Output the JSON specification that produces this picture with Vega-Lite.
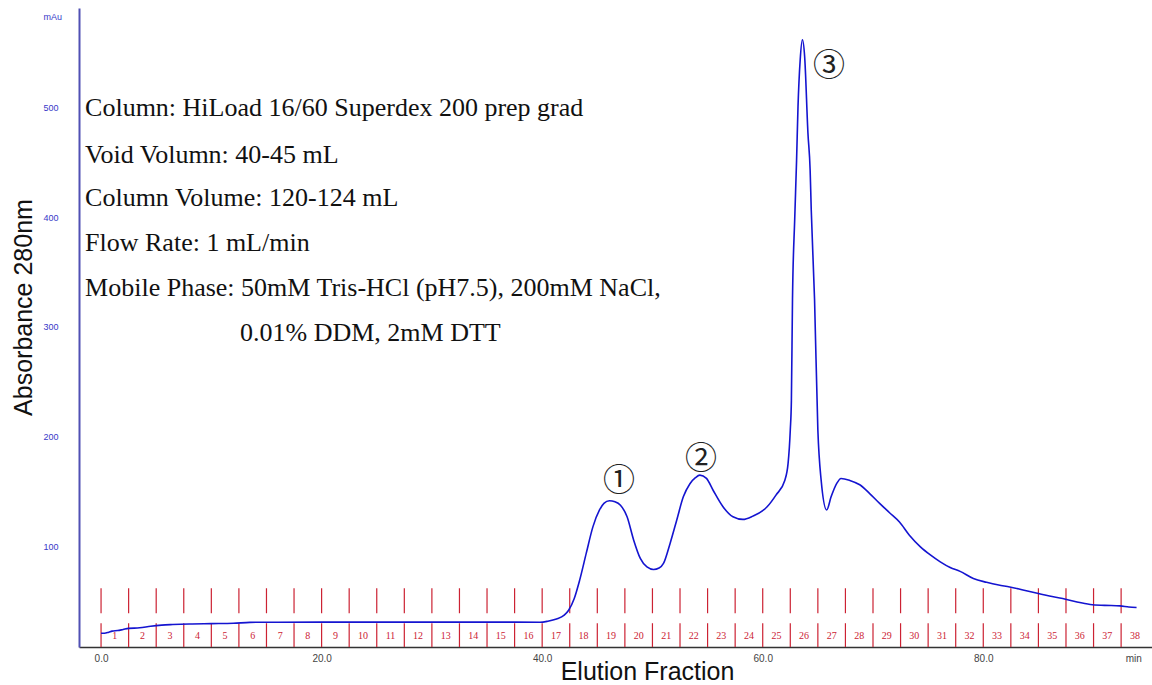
{
  "$schema": "https://vega.github.io/schema/vega-lite/v6.json",
  "width": 1073,
  "height": 639,
  "autosize": {"type": "none"},
  "padding": {"left": 79, "top": 8, "right": 0, "bottom": 38},
  "background": "white",
  "config": {
    "view": {"stroke": null},
    "axis": {"grid": false, "ticks": false, "tickSize": 0, "labelFlush": false, "labelOverlap": false,
      "titleFont": "Liberation Sans", "titleFontSize": 25, "titleFontWeight": "normal", "titleColor": "#111111"},
    "axisX": {"domainColor": "#333333", "domainWidth": 1.5, "labelFont": "Liberation Sans", "labelFontSize": 10, "labelColor": "#444444", "labelPadding": 6},
    "axisY": {"domainColor": "#5050b4", "domainWidth": 2, "labelFont": "Liberation Sans", "labelFontSize": 9, "labelColor": "#3838c8", "labelAlign": "left", "labelBaseline": "middle", "labelPadding": 36}
  },
  "datasets": {
    "curve": [
      {"t": 0, "a": 20.5}, {"t": 0.3, "a": 20.5}, {"t": 0.7, "a": 21.5}, {"t": 1.0, "a": 22.5}, {"t": 1.5, "a": 23},
      {"t": 2.0, "a": 24}, {"t": 2.5, "a": 25}, {"t": 3.5, "a": 25.5}, {"t": 4.5, "a": 27}, {"t": 5.5, "a": 28},
      {"t": 6.5, "a": 28.5}, {"t": 8.0, "a": 29}, {"t": 10, "a": 29.3}, {"t": 12, "a": 29.6}, {"t": 13.5, "a": 30.5},
      {"t": 16, "a": 30.6}, {"t": 20, "a": 30.7}, {"t": 25, "a": 30.7}, {"t": 30, "a": 30.7}, {"t": 35, "a": 30.7},
      {"t": 39.8, "a": 30.6}, {"t": 40.5, "a": 31.5}, {"t": 41.3, "a": 33.5}, {"t": 42.0, "a": 37}, {"t": 42.4, "a": 41.5},
      {"t": 42.9, "a": 52}, {"t": 43.4, "a": 69}, {"t": 44.0, "a": 93.6}, {"t": 44.6, "a": 117.6}, {"t": 45.2, "a": 133},
      {"t": 45.6, "a": 139}, {"t": 46.1, "a": 141.4}, {"t": 46.6, "a": 140.5}, {"t": 47.1, "a": 137.4}, {"t": 47.7, "a": 126.8},
      {"t": 48.3, "a": 105.5}, {"t": 48.9, "a": 88.8}, {"t": 49.5, "a": 81}, {"t": 50.1, "a": 78.7}, {"t": 50.6, "a": 80},
      {"t": 51.0, "a": 84.2}, {"t": 51.6, "a": 102.5}, {"t": 52.2, "a": 123.7}, {"t": 52.8, "a": 145}, {"t": 53.4, "a": 157},
      {"t": 53.9, "a": 162.5}, {"t": 54.3, "a": 164.8}, {"t": 54.9, "a": 161.8}, {"t": 55.5, "a": 151}, {"t": 56.4, "a": 135.9},
      {"t": 57.3, "a": 126.8}, {"t": 58.2, "a": 124.4}, {"t": 59.1, "a": 127.4}, {"t": 60.4, "a": 135.9}, {"t": 61.2, "a": 146.6},
      {"t": 62.0, "a": 160}, {"t": 62.3, "a": 175.5}, {"t": 62.5, "a": 206}, {"t": 62.6, "a": 233}, {"t": 62.7, "a": 325},
      {"t": 62.9, "a": 398}, {"t": 63.07, "a": 452}, {"t": 63.2, "a": 501}, {"t": 63.4, "a": 544}, {"t": 63.6, "a": 562},
      {"t": 63.8, "a": 547}, {"t": 64.1, "a": 477}, {"t": 64.3, "a": 443}, {"t": 64.4, "a": 407}, {"t": 64.7, "a": 325},
      {"t": 65.0, "a": 206}, {"t": 65.3, "a": 160}, {"t": 65.8, "a": 133}, {"t": 66.2, "a": 145}, {"t": 66.7, "a": 157},
      {"t": 67.1, "a": 161.8}, {"t": 67.9, "a": 160}, {"t": 68.8, "a": 156}, {"t": 69.7, "a": 148}, {"t": 70.6, "a": 139},
      {"t": 71.5, "a": 130.5}, {"t": 72.4, "a": 122}, {"t": 73.3, "a": 110}, {"t": 74.3, "a": 99.4}, {"t": 75.2, "a": 92},
      {"t": 76.1, "a": 85.7}, {"t": 77.0, "a": 80.5}, {"t": 77.9, "a": 77}, {"t": 79.1, "a": 70.5}, {"t": 80.3, "a": 67},
      {"t": 81.4, "a": 64.5}, {"t": 82.4, "a": 62.8}, {"t": 83.6, "a": 60}, {"t": 84.8, "a": 57.3}, {"t": 86.0, "a": 54.5},
      {"t": 87.2, "a": 52.2}, {"t": 88.5, "a": 49}, {"t": 89.7, "a": 46.8}, {"t": 91.0, "a": 46}, {"t": 92.4, "a": 45.5},
      {"t": 93.2, "a": 44.5}, {"t": 93.9, "a": 44}
    ],
    "fractions": [
      {"f": "1", "start": 0, "mid": 1.25}, {"f": "2", "start": 2.5, "mid": 3.75}, {"f": "3", "start": 5, "mid": 6.25},
      {"f": "4", "start": 7.5, "mid": 8.75}, {"f": "5", "start": 10, "mid": 11.25}, {"f": "6", "start": 12.5, "mid": 13.75},
      {"f": "7", "start": 15, "mid": 16.25}, {"f": "8", "start": 17.5, "mid": 18.75}, {"f": "9", "start": 20, "mid": 21.25},
      {"f": "10", "start": 22.5, "mid": 23.75}, {"f": "11", "start": 25, "mid": 26.25}, {"f": "12", "start": 27.5, "mid": 28.75},
      {"f": "13", "start": 30, "mid": 31.25}, {"f": "14", "start": 32.5, "mid": 33.75}, {"f": "15", "start": 35, "mid": 36.25},
      {"f": "16", "start": 37.5, "mid": 38.75}, {"f": "17", "start": 40, "mid": 41.25}, {"f": "18", "start": 42.5, "mid": 43.75},
      {"f": "19", "start": 45, "mid": 46.25}, {"f": "20", "start": 47.5, "mid": 48.75}, {"f": "21", "start": 50, "mid": 51.25},
      {"f": "22", "start": 52.5, "mid": 53.75}, {"f": "23", "start": 55, "mid": 56.25}, {"f": "24", "start": 57.5, "mid": 58.75},
      {"f": "25", "start": 60, "mid": 61.25}, {"f": "26", "start": 62.5, "mid": 63.75}, {"f": "27", "start": 65, "mid": 66.25},
      {"f": "28", "start": 67.5, "mid": 68.75}, {"f": "29", "start": 70, "mid": 71.25}, {"f": "30", "start": 72.5, "mid": 73.75},
      {"f": "31", "start": 75, "mid": 76.25}, {"f": "32", "start": 77.5, "mid": 78.75}, {"f": "33", "start": 80, "mid": 81.25},
      {"f": "34", "start": 82.5, "mid": 83.75}, {"f": "35", "start": 85, "mid": 86.25}, {"f": "36", "start": 87.5, "mid": 88.75},
      {"f": "37", "start": 90, "mid": 91.25}, {"f": "38", "start": 92.5, "mid": 93.75}
    ],
    "notes": [
      {"x": -1.45, "y": 500, "text": "Column: HiLoad 16/60 Superdex 200 prep grad"},
      {"x": -1.45, "y": 457, "text": "Void Volumn: 40-45 mL"},
      {"x": -1.45, "y": 418, "text": "Column Volume: 120-124 mL"},
      {"x": -1.45, "y": 376.7, "text": "Flow Rate: 1 mL/min"},
      {"x": -1.45, "y": 335.6, "text": "Mobile Phase: 50mM Tris-HCl (pH7.5), 200mM NaCl,"},
      {"x": 12.6, "y": 294.5, "text": "0.01% DDM, 2mM DTT"}
    ],
    "peaks": [
      {"x": 46.96, "y": 159.3, "label": "①"},
      {"x": 54.4, "y": 179.5, "label": "②"},
      {"x": 66.0, "y": 538.5, "label": "③"}
    ]
  },
  "layer": [
    {
      "data": {"name": "fractions"},
      "mark": {"type": "rule", "color": "#cc2233", "strokeWidth": 1.2},
      "encoding": {
        "x": {"field": "start", "type": "quantitative"},
        "y": {"datum": 38.8, "type": "quantitative"},
        "y2": {"datum": 61.6}
      }
    },
    {
      "data": {"name": "fractions"},
      "mark": {"type": "rule", "color": "#cc2233", "strokeWidth": 1.2},
      "encoding": {
        "x": {"field": "start", "type": "quantitative"},
        "y": {"datum": 8, "type": "quantitative"},
        "y2": {"datum": 29.7}
      }
    },
    {
      "data": {"name": "fractions"},
      "mark": {"type": "text", "font": "Liberation Serif", "fontSize": 10, "color": "#cc2233", "baseline": "middle", "align": "center"},
      "encoding": {
        "x": {"field": "mid", "type": "quantitative"},
        "y": {"datum": 17.8, "type": "quantitative"},
        "text": {"field": "f"}
      }
    },
    {
      "data": {"name": "curve"},
      "mark": {"type": "line", "color": "#1414d0", "strokeWidth": 1.6, "interpolate": "monotone"},
      "encoding": {
        "x": {
          "field": "t", "type": "quantitative",
          "scale": {"domain": [-2, 95.3], "nice": false, "zero": false},
          "axis": {"values": [0, 20, 40, 60, 80, 93.6], "labelExpr": "datum.value > 90 ? 'min' : format(datum.value, '.1f')",
            "title": "Elution Fraction", "titleX": 568, "titleY": 24, "titleBaseline": "middle", "titleAlign": "center"}
        },
        "y": {
          "field": "a", "type": "quantitative",
          "scale": {"domain": [8, 591], "nice": false, "zero": false},
          "axis": {"values": [100, 200, 300, 400, 500, 583], "labelExpr": "datum.value > 550 ? 'mAu' : format(datum.value, 'd')",
            "title": "Absorbance 280nm", "titleX": -56, "titleY": 299, "titleBaseline": "middle", "titleAlign": "center"}
        }
      }
    },
    {
      "data": {"name": "notes"},
      "mark": {"type": "text", "font": "Liberation Serif", "fontSize": 26, "color": "#111111", "align": "left", "baseline": "middle"},
      "encoding": {
        "x": {"field": "x", "type": "quantitative"},
        "y": {"field": "y", "type": "quantitative"},
        "text": {"field": "text"}
      }
    },
    {
      "data": {"name": "peaks"},
      "mark": {"type": "text", "font": "Noto Sans CJK SC", "fontSize": 32, "color": "#222222", "align": "center", "baseline": "middle"},
      "encoding": {
        "x": {"field": "x", "type": "quantitative"},
        "y": {"field": "y", "type": "quantitative"},
        "text": {"field": "label"}
      }
    }
  ]
}
